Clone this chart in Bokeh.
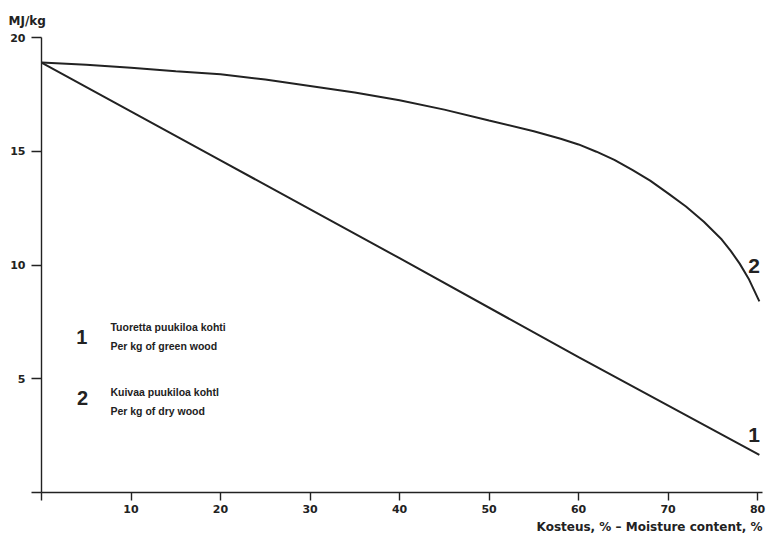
from bokeh.plotting import figure
from bokeh.models import Range1d, FixedTicker, Title
from bokeh.core.properties import value
from bokeh.embed import file_html
from bokeh.resources import INLINE

# Data
moisture_dry = [0, 5, 10, 15, 20, 25, 30, 35, 40, 45, 50, 55, 58, 60, 62, 64, 66, 68,
                70, 72, 74, 76, 77, 78, 79, 80.2]
mj_dry = [18.9, 18.8, 18.67, 18.52, 18.38, 18.15, 17.87, 17.58, 17.24, 16.83, 16.35, 15.88,
          15.55, 15.3, 14.98, 14.62, 14.18, 13.71, 13.15, 12.57, 11.9, 11.12, 10.62, 10.06,
          9.4, 8.4]
moisture_green = [0, 20, 40, 60, 80.2]
mj_green = [18.9, 14.6, 10.3, 5.95, 1.65]

x_ticks = [0, 10, 20, 30, 40, 50, 60, 70, 80]
y_ticks = [0, 5, 10, 15, 20]

INK = "#222222"
TICKFONT = "DejaVu Sans"
TEXTFONT = "Liberation Sans"

p = figure(width=766, height=537, output_backend="svg", toolbar_location=None,
           x_range=Range1d(0, 80.55), y_range=Range1d(0, 20),
           min_border_left=41, min_border_right=4, min_border_top=37, min_border_bottom=45)
p.outline_line_color = None
p.xgrid.visible = False
p.ygrid.visible = False
p.background_fill_color = "white"

p.title.text = "MJ/kg"
p.title.align = "left"
p.title.offset = -33
p.title.standoff = 19
p.title.text_font = TICKFONT
p.title.text_font_style = "bold"
p.title.text_font_size = "12px"
p.title.text_color = INK

for ax in (p.xaxis[0], p.yaxis[0]):
    ax.axis_line_color = INK
    ax.axis_line_width = 1.4
    ax.major_tick_line_color = INK
    ax.major_tick_line_width = 1.4
    ax.minor_tick_line_color = None
    ax.major_tick_in = 0
    ax.major_label_text_font = TICKFONT
    ax.major_label_text_font_style = "bold"
    ax.major_label_text_font_size = "11px"
    ax.major_label_text_color = INK

p.xaxis[0].ticker = FixedTicker(ticks=x_ticks)
p.xaxis[0].major_label_overrides = {0: ""}
p.xaxis[0].major_tick_out = 8
p.xaxis[0].major_label_standoff = 4

p.yaxis[0].ticker = FixedTicker(ticks=y_ticks)
p.yaxis[0].major_label_overrides = {0: ""}
p.yaxis[0].major_tick_out = 10
p.yaxis[0].major_label_standoff = 6

xtitle = Title(text="Kosteus, % – Moisture content, %", align="right",
               text_font=TICKFONT, text_font_style="bold", text_font_size="12px",
               text_color=INK, standoff=4)
p.add_layout(xtitle, "below")

p.line(moisture_green, mj_green, line_color=INK, line_width=2)
p.line(moisture_dry, mj_dry, line_color=INK, line_width=2)

# Curve numbers
p.text(x=[79.6], y=[9.96], text=["2"], text_font=value(TEXTFONT), text_font_style="bold",
       text_font_size="21px", text_align="center", text_baseline="middle", text_color=INK)
p.text(x=[79.6], y=[2.51], text=["1"], text_font=value(TEXTFONT), text_font_style="bold",
       text_font_size="21px", text_align="center", text_baseline="middle", text_color=INK)

# Key
p.text(x=[4.5, 4.6], y=[6.83, 4.15], text=["1", "2"], text_font=value(TEXTFONT),
       text_font_style="bold", text_font_size="20px", text_align="center",
       text_baseline="middle", text_color=INK)
p.text(x=[7.7, 7.7, 7.7, 7.7], y=[7.27, 6.42, 4.41, 3.60],
       text=["Tuoretta puukiloa kohti", "Per kg of green wood",
             "Kuivaa puukiloa kohtl", "Per kg of dry wood"],
       text_font=value(TEXTFONT), text_font_style="bold", text_font_size="10.5px",
       text_align="left", text_baseline="middle", text_color=INK)

open("out.html", "w").write(file_html(p, INLINE))
